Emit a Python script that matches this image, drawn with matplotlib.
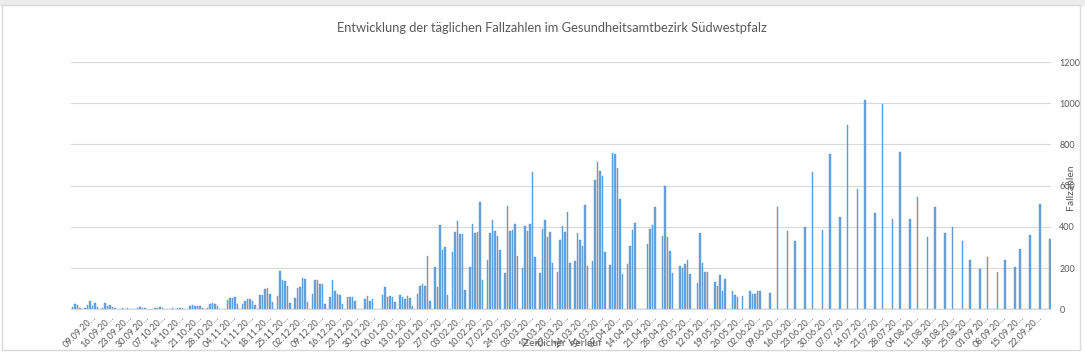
import matplotlib.pyplot as plt
from matplotlib.patches import Rectangle
import numpy as np
import pandas as pd

# daily case counts, 01.09.2021 .. 27.09.2022 (one row per week, Mon-Sun)
cases = [
    10, 27, 22, 8, 0,                     # Sep 1-5 (Wed-Sun)
    4, 22, 40, 16, 29, 11, 0,
    5, 29, 16, 19, 11, 4, 0,
    3, 6, 2, 5, 3, 1, 0,
    5, 13, 4, 6, 3, 2, 0,
    4, 6, 11, 5, 3, 2, 0,
    6, 3, 8, 4, 6, 3, 0,
    18, 20, 18, 18, 16, 4, 0,
    8, 26, 32, 24, 18, 0, 0,
    0, 45, 53, 56, 58, 24, 0,
    24, 40, 50, 48, 42, 21, 0,
    70, 70, 98, 102, 73, 35, 0,
    66, 188, 140, 138, 115, 30, 0,
    55, 104, 106, 150, 146, 34, 0,
    73, 140, 140, 125, 125, 27, 0,
    62, 143, 89, 73, 71, 24, 0,
    62, 62, 62, 42, 0, 0, 0,
    50, 65, 39, 48, 0, 0, 0,
    70, 108, 60, 65, 58, 36, 0,           # Jan 3
    70, 62, 50, 65, 53, 18, 0,
    75, 115, 123, 115, 259, 42, 0,
    207, 110, 410, 288, 301, 70, 0,
    277, 373, 429, 365, 365, 94, 0,
    207, 415, 369, 374, 520, 143, 0,
    237, 369, 431, 381, 358, 288, 0,
    175, 502, 381, 386, 413, 259, 0,
    199, 402, 381, 415, 664, 253, 0,
    178, 389, 431, 353, 374, 224, 0,
    183, 334, 405, 374, 470, 224, 0,
    235, 369, 337, 309, 507, 211, 0,
    232, 629, 713, 669, 648, 280, 0,
    215, 758, 752, 685, 536, 170, 0,
    220, 309, 386, 418, 0, 0, 0,
    0, 318, 390, 410, 494, 0, 0,
    356, 600, 353, 283, 175, 0, 0,
    211, 199, 219, 237, 170, 0, 0,
    130, 369, 224, 180, 180, 0, 0,
    131, 115, 167, 91, 147, 0, 0,
    91, 70, 62, 0, 65, 0, 0,
    89, 73, 73, 89, 89, 0, 0,
    0, 81, 0, 0, 494, 0, 0,               # Jun 6
    0, 381, 0, 0, 330, 0, 0,
    0, 397, 0, 0, 666, 0, 0,
    0, 386, 0, 0, 755, 0, 0,
    0, 450, 0, 0, 894, 0, 0,
    0, 586, 0, 0, 1014, 0, 0,
    0, 467, 0, 0, 998, 0, 0,
    0, 439, 0, 0, 763, 0, 0,
    0, 439, 0, 0, 544, 0, 0,
    0, 353, 0, 0, 496, 0, 0,
    0, 369, 0, 0, 397, 0, 0,
    0, 332, 0, 0, 237, 0, 0,
    0, 194, 0, 0, 256, 0, 0,
    0, 183, 0, 0, 237, 0, 0,
    0, 204, 0, 292, 0, 0, 0,
    361, 0, 0, 0, 510, 0, 0,
    0, 342,                               # Sep 26-27
]
start = pd.Timestamp("2021-09-01")
label_dates = pd.date_range("2021-09-09", "2022-09-22", freq="7D")
tick_labels = [d.strftime("%d.%m.") + "20…" for d in label_dates]
y_ticks = [0, 200, 400, 600, 800, 1000, 1200]

plt.rcParams["font.family"] = ["Lato", "DejaVu Sans"]
grey = "#595959"

W, H = 1085, 355
fig = plt.figure(figsize=(W / 100, H / 100), dpi=100)
fig.patches.append(Rectangle((0, 1 - 5 / H), 1, 5 / H, transform=fig.transFigure,
                             color="#ececec", zorder=0))
fig.patches.append(Rectangle((1.5 / W, 5 / H), 1078 / W, 345 / H, transform=fig.transFigure,
                             fill=False, edgecolor="#d9d9d9", lw=1, zorder=0))

ax = fig.add_axes([71 / W, (H - 309.3) / H, 980 / W, 247.3 / H])
x = np.arange(len(cases))
ax.bar(x, cases, width=0.6, color="#6aa4da", edgecolor="#5b93c9", linewidth=0.3, zorder=2)

ax.set_xlim(-0.5, len(cases) - 0.5)
ax.set_ylim(0, 1200)
ax.set_yticks(y_ticks)
ax.yaxis.tick_right()
ax.grid(axis="y", color="#d9d9d9", linewidth=0.8, zorder=0)
for s in ["top", "left", "right"]:
    ax.spines[s].set_visible(False)
ax.spines["bottom"].set_color("#d9d9d9")
ax.tick_params(axis="y", length=0, pad=6, labelsize=6.5, labelcolor=grey)

pos = [(d - start).days for d in label_dates]
ax.set_xticks(pos)
ax.set_xticklabels(tick_labels, rotation=45, ha="right", rotation_mode="anchor")
ax.tick_params(axis="x", length=0, pad=3, labelsize=6.5, labelcolor=grey)

fig.text(552 / W, 1 - 28 / H,
         "Entwicklung der täglichen Fallzahlen im Gesundheitsamtbezirk Südwestpfalz",
         ha="center", va="center", fontsize=9.3, color=grey)
fig.text(562 / W, 1 - 343 / H, "Zeitlicher Verlauf", ha="center", va="center",
         fontsize=7.5, color=grey)
fig.text(1070 / W, 1 - 187 / H, "Fallzahlen", ha="center", va="center", rotation=90,
         fontsize=7.5, color=grey)

fig.savefig("out.png", dpi=100)
